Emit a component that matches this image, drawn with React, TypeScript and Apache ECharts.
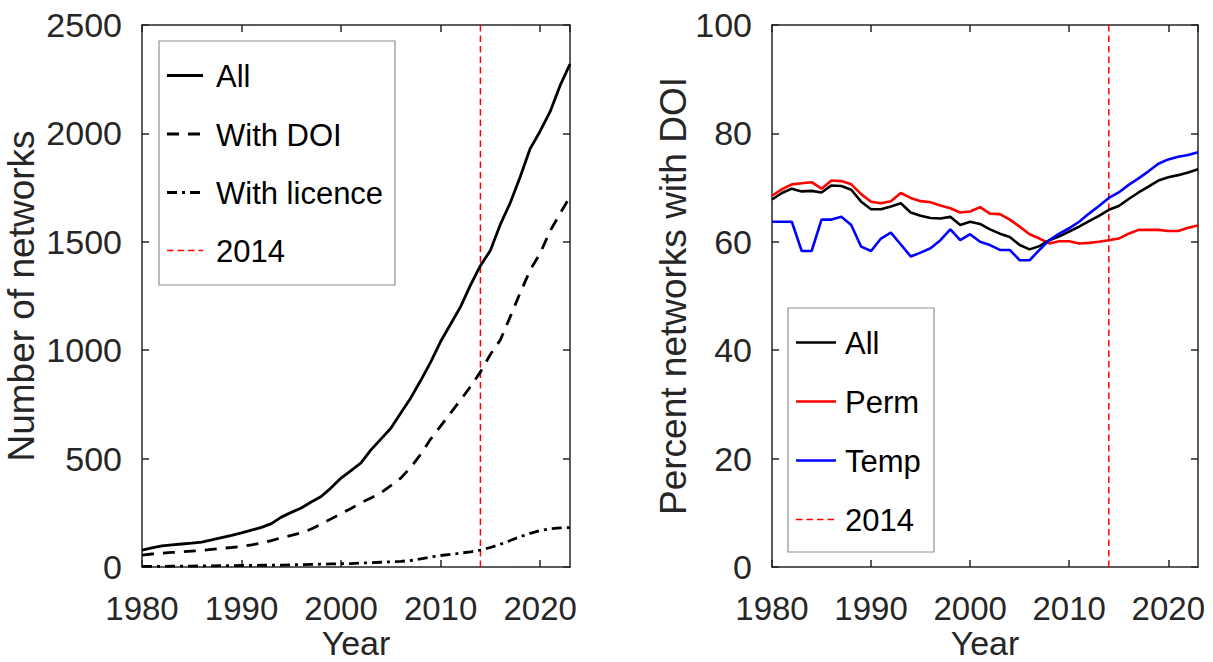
import React, { useEffect, useRef } from "react";
import * as echarts from "echarts";

const years = [
  1980, 1981, 1982, 1983, 1984, 1985, 1986, 1987, 1988, 1989,
  1990, 1991, 1992, 1993, 1994, 1995, 1996, 1997, 1998, 1999,
  2000, 2001, 2002, 2003, 2004, 2005, 2006, 2007, 2008, 2009,
  2010, 2011, 2012, 2013, 2014, 2015, 2016, 2017, 2018, 2019,
  2020, 2021, 2022, 2023,
];

const allNetworks = [
  78, 88, 97, 102, 106, 110, 115, 125, 136, 146,
  157, 170, 183, 200, 230, 252, 272, 300, 325, 365,
  410, 445, 480, 540, 590, 640, 710, 780, 860, 945,
  1040, 1120, 1200, 1300, 1390, 1460, 1580, 1680, 1800, 1930,
  2010, 2100, 2220, 2320,
];

const withDoi = [
  55, 60, 64, 67, 70, 73, 76, 81, 86, 90,
  95, 102, 110, 122, 135, 146, 157, 175, 198, 222,
  246, 270, 296, 318, 342, 375, 410, 460, 520, 590,
  650, 710, 770, 832, 900, 980, 1047, 1155, 1265, 1370,
  1447, 1550, 1630, 1708,
];

const withLicence = [
  3, 3, 3, 4, 4, 4, 5, 5, 6, 6,
  7, 7, 8, 8, 9, 10, 11, 12, 13, 14,
  15, 16, 18, 20, 22, 24, 26, 30, 38, 46,
  53, 58, 64, 70, 78, 90, 105, 122, 140, 155,
  168, 176, 180, 182,
];

const pctAll = [
  67.8, 69.0, 69.8, 69.3, 69.4, 69.1, 70.4, 70.3, 69.6, 67.4,
  66.0, 66.0, 66.5, 67.1, 65.4, 64.8, 64.4, 64.3, 64.6, 63.1,
  63.7, 63.3, 62.3, 61.5, 60.9, 59.4, 58.6, 59.2, 60.3, 61.0,
  61.9, 62.8, 63.8, 64.8, 65.9, 66.6, 67.9, 69.1, 70.2, 71.3,
  71.9, 72.3, 72.8, 73.4,
];

const pctPerm = [
  68.5, 69.7, 70.6, 70.8, 71.0, 69.8, 71.3, 71.2, 70.6, 68.8,
  67.4, 67.1, 67.5, 69.0, 68.1, 67.5, 67.3, 66.7, 66.2, 65.4,
  65.6, 66.4, 65.2, 65.1, 64.1, 62.8, 61.4, 60.6, 59.7, 60.1,
  60.1, 59.7, 59.8, 60.0, 60.3, 60.6, 61.5, 62.2, 62.2, 62.2,
  62.0, 62.0, 62.6, 63.0,
];

const pctTemp = [
  63.7, 63.7, 63.7, 58.3, 58.3, 64.1, 64.1, 64.6, 63.1, 59.1,
  58.3, 60.6, 61.7, 59.5, 57.3, 58.0, 58.8, 60.3, 62.3, 60.3,
  61.4, 60.0, 59.4, 58.5, 58.5, 56.6, 56.6, 58.5, 60.3, 61.5,
  62.5, 63.7, 65.2, 66.6, 68.1, 69.1, 70.5, 71.7, 73.0, 74.4,
  75.2, 75.7, 76.0, 76.5,
];

const markerYear = 2014;
const xRange = [1980, 2023];
const leftYRange = [0, 2500];
const rightYRange = [0, 100];

const leftLegend = ["All", "With DOI", "With licence", "2014"];
const rightLegend = ["All", "Perm", "Temp", "2014"];

const FONT = "'Liberation Sans', Arial, Helvetica, sans-serif";
const AX = "#262626";
const DASH = [12, 9];
const DASHDOT = [10, 5, 3, 5];
const RED_DASH = [6.5, 4];

const pairs = (vals: number[]) => years.map((y, i) => [y, vals[i]]);

export default function App() {
  const ref = useRef<HTMLDivElement>(null);

  useEffect(() => {
    if (!ref.current) return;
    const chart = echarts.init(ref.current, null, { renderer: "svg" });

    const grids = [
      { left: 142, top: 25, width: 428, height: 542, containLabel: false, outerBoundsMode: "none" },
      { left: 772, top: 25, width: 426, height: 542, containLabel: false, outerBoundsMode: "none" },
    ];

    const mkX = (gi: number, top: boolean) => ({
      type: "value",
      gridIndex: gi,
      position: top ? "top" : "bottom",
      min: xRange[0],
      max: xRange[1],
      interval: 10,
      name: top ? "" : "Year",
      nameLocation: "middle",
      nameGap: 76,
      nameMoveOverlap: false,
      nameTextStyle: {
        fontFamily: FONT,
        fontSize: 34,
        color: AX,
        verticalAlign: "middle",
      },
      axisLine: { show: true, onZero: false, lineStyle: { color: AX, width: 1.5 } },
      axisTick: { show: true, inside: true, length: 7, lineStyle: { color: AX, width: 1.5 } },
      axisLabel: {
        show: !top,
        showMaxLabel: false,
        margin: 25,
        fontFamily: FONT,
        fontSize: 33,
        color: AX,
        formatter: (v: number) => String(v),
      },
      splitLine: { show: false },
    });

    const mkY = (gi: number, right: boolean, range: number[], interval: number, name: string, gap: number) => ({
      type: "value",
      gridIndex: gi,
      position: right ? "right" : "left",
      min: range[0],
      max: range[1],
      interval,
      name: right ? "" : name,
      nameLocation: "middle",
      nameGap: gap,
      nameMoveOverlap: false,
      nameRotate: 90,
      nameTextStyle: {
        fontFamily: FONT,
        fontSize: 37,
        color: AX,
        verticalAlign: "middle",
      },
      axisLine: { show: true, onZero: false, lineStyle: { color: AX, width: 1.5 } },
      axisTick: { show: true, inside: true, length: 7, lineStyle: { color: AX, width: 1.5 } },
      axisLabel: {
        show: !right,
        margin: 20,
        fontFamily: FONT,
        fontSize: 34,
        color: AX,
        formatter: (v: number) => String(v),
      },
      splitLine: { show: false },
    });

    const line = (name: string, xi: number, yi: number, data: number[][], color: string, width: number, type: any, z = 3) => ({
      type: "line",
      name,
      xAxisIndex: xi,
      yAxisIndex: yi,
      data,
      showSymbol: false,
      symbol: "none",
      z,
      lineStyle: { color, width, type },
      emphasis: { disabled: true },
    });

    const legendRows = (
      x0: number, x1: number, tx: number, ys: number[], labels: string[],
      styles: { color: string; width: number; dash: any }[]
    ) => {
      const els: any[] = [];
      labels.forEach((lab, i) => {
        const s = styles[i];
        els.push({
          type: "line",
          z: 101,
          shape: { x1: x0, y1: ys[i], x2: x1, y2: ys[i] },
          style: { stroke: s.color, lineWidth: s.width, lineDash: s.dash },
        });
        els.push({
          type: "text",
          z: 101,
          x: tx,
          y: ys[i] + 1,
          style: {
            text: lab,
            fontFamily: FONT,
            fontSize: 31,
            fill: "#000",
            align: "left",
            verticalAlign: "middle",
          },
        });
      });
      return els;
    };

    const option: any = {
      animation: false,
      backgroundColor: "#fff",
      grid: grids,
      xAxis: [mkX(0, false), mkX(0, true), mkX(1, false), mkX(1, true)],
      yAxis: [
        mkY(0, false, leftYRange, 500, "Number of networks", 121),
        mkY(0, true, leftYRange, 500, "", 0),
        mkY(1, false, rightYRange, 20, "Percent networks with DOI", 99),
        mkY(1, true, rightYRange, 20, "", 0),
      ],
      series: [
        line("2014", 0, 0, [[markerYear, leftYRange[0]], [markerYear, leftYRange[1]]], "#ff0000", 1.5, RED_DASH, 2),
        line("All", 0, 0, pairs(allNetworks), "#000", 2.8, "solid"),
        line("With DOI", 0, 0, pairs(withDoi), "#000", 2.8, DASH),
        line("With licence", 0, 0, pairs(withLicence), "#000", 2.8, DASHDOT),
        line("2014", 2, 2, [[markerYear, rightYRange[0]], [markerYear, rightYRange[1]]], "#ff0000", 1.5, RED_DASH, 2),
        line("Perm", 2, 2, pairs(pctPerm), "#ff0000", 2.6, "solid"),
        line("All", 2, 2, pairs(pctAll), "#000", 2.6, "solid", 4),
        line("Temp", 2, 2, pairs(pctTemp), "#0000ff", 2.6, "solid", 5),
      ],
      graphic: [
        {
          type: "rect",
          z: 100,
          shape: { x: 159, y: 41, width: 236, height: 244 },
          style: { fill: "#fff", stroke: "#8f8f8f", lineWidth: 1.2 },
        },
        ...legendRows(167, 203, 216, [75.5, 134, 192.5, 250.5], leftLegend, [
          { color: "#000", width: 2.8, dash: null },
          { color: "#000", width: 2.8, dash: DASH },
          { color: "#000", width: 2.8, dash: DASHDOT },
          { color: "#ff0000", width: 1.5, dash: RED_DASH },
        ]),
        {
          type: "rect",
          z: 100,
          shape: { x: 788, y: 308, width: 146, height: 244 },
          style: { fill: "#fff", stroke: "#8f8f8f", lineWidth: 1.2 },
        },
        ...legendRows(796, 836, 845, [342.5, 401.5, 460.5, 519.5], rightLegend, [
          { color: "#000", width: 2.6, dash: null },
          { color: "#ff0000", width: 2.6, dash: null },
          { color: "#0000ff", width: 2.6, dash: null },
          { color: "#ff0000", width: 1.5, dash: RED_DASH },
        ]),
      ],
    };

    chart.setOption(option);
    return () => chart.dispose();
  }, []);

  return (
    <div
      ref={ref}
      style={{ position: "fixed", left: 0, top: 0, width: 1213, height: 662, background: "#fff" }}
    />
  );
}
